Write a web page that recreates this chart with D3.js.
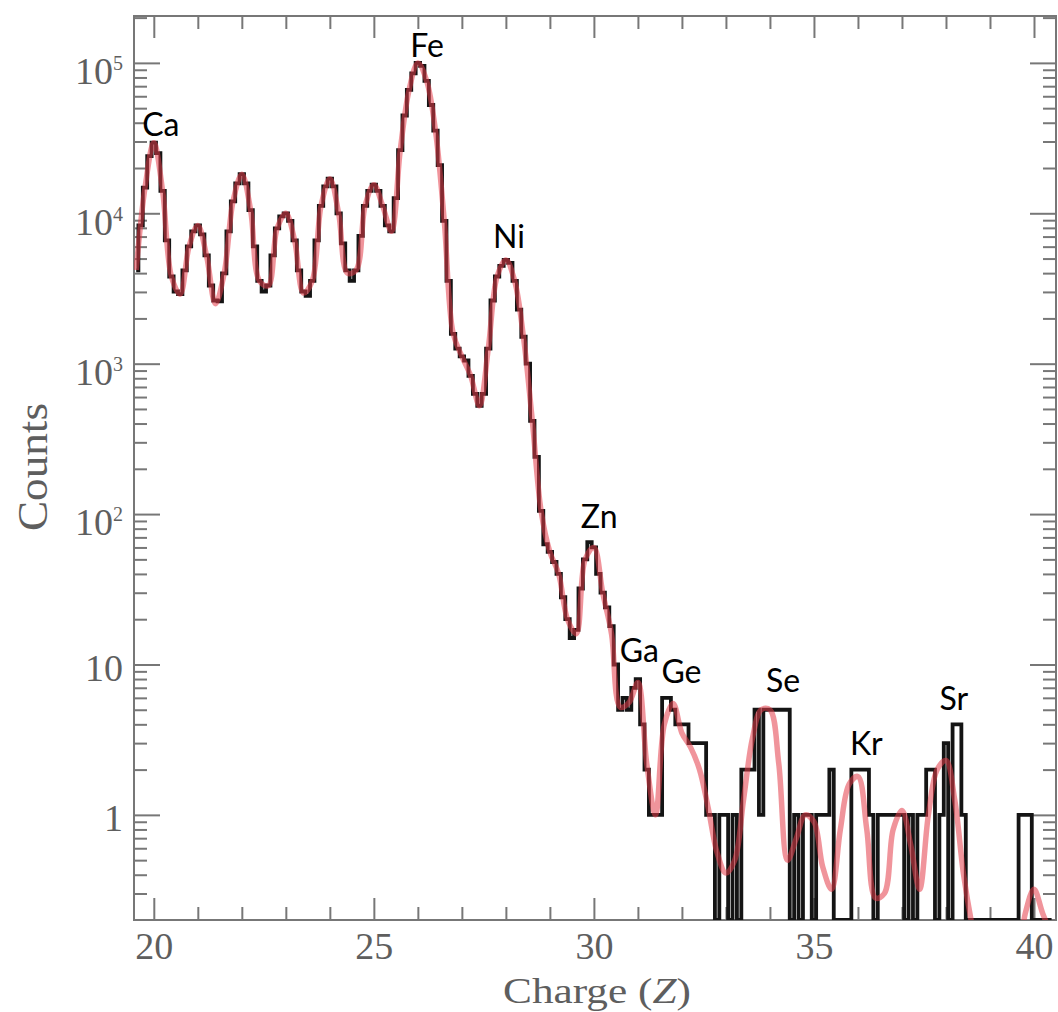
<!DOCTYPE html>
<html>
<head>
<meta charset="utf-8">
<script src="https://cdn.jsdelivr.net/npm/d3@7"></script>
<style>
  body { margin: 0; background: #fff; }
</style>
</head>
<body>
<script>
// histogram: bin centres start at 19.6, bins are 0.1 wide
const histStart = 19.6;
const histStep = 0.1;
const histCounts = [
  4170, 8320, 14800, 24000,
  29500, 25100, 14100, 6600, 3800, 3020, 2900, 4170, 6030, 7590,
  8320, 7240, 5250, 3310, 2630, 2600, 3980, 7590, 12000, 15800,
  18200, 15800, 10500, 6030, 3550, 3020, 3310, 5250, 7940, 9550,
  10000, 8910, 6610, 4170, 3020, 2820, 3550, 6610, 11200, 15100,
  17000, 15100, 10000, 6310, 4170, 3550, 4170, 7080, 11200, 14100,
  15500, 14100, 11200, 8320, 7590, 12600, 26300, 44700, 66100, 85100,
  100000, 95500, 75900, 52500, 35500, 20900, 8910, 3550, 1580, 1260,
  1120, 1050, 830, 630, 525, 630, 1260, 2630, 3800, 4470,
  4900, 4680, 3550, 2290, 1510, 1000, 417, 240, 105, 63,
  56, 48, 40, 28, 20, 15, 17, 32, 50, 65,
  60, 40, 30, 24, 18, 10, 5, 6, 5, 7,
  8, 4, 2, 1, 1, 1, 6, 6, 5, 4,
  4, 4, 3, 3, 3, 3, 1, 1, 0, 1,
  1, 0, 1, 0, 2, 2, 2, 5, 1, 5,
  5, 5, 5, 5, 5, 0, 1, 0, 1, 1,
  0, 1, 1, 1, 2, 0, 0, 0, 0, 2,
  2, 2, 2, 1, 0, 1, 1, 1, 1, 1,
  1, 0, 1, 0, 1, 1, 2, 2, 0, 1,
  3, 0, 4, 4, 1, 0, 0, 0, 0, 0,
  0, 0, 0, 0, 0, 0, 0, 1, 1, 1,
  0, 0, 0, 0, 0
];

// fitted curve, sampled every 0.2 from 19.6
const fitStart = 19.6;
const fitStep = 0.2;
const fitCounts = [
  4200, 14800, 29500, 14100, 3800, 2900, 6000, 8300, 5200, 2500,
  4000, 12000, 18200, 10500, 3550, 3300, 7900, 10000, 6600, 2950,
  3550, 11200, 17000, 10000, 4000, 4200, 11200, 15500, 11200, 7600,
  26300, 66000, 100000, 76000, 35500, 8900, 1600, 1120, 830, 525,
  1260, 3800, 4900, 3550, 1500, 420, 105, 56, 40, 20,
  16, 50, 60, 30, 16, 5.2, 5.6, 7.6, 2.2, 1.0,
  4.0, 5.5, 3.5, 2.8, 2.0, 1.1, 0.56, 0.41, 0.5, 1.26,
  3.2, 5.0, 5.0, 2.2, 0.5, 0.7, 1.0, 0.9, 0.45, 0.32,
  0.8, 1.6, 1.8, 0.8, 0.28, 0.3, 0.8, 1.07, 0.63, 0.32,
  1.0, 2.0, 2.3, 1.25, 0.4, 0.18, 0.1, 0.1, 0.1, 0.1,
  0.1, 0.22, 0.32, 0.22, 0.16
];

const elements = ["Ca", "Fe", "Ni", "Zn", "Ga", "Ge", "Se", "Kr", "Sr"];
const elementZ = [20.16, 26.21, 28.07, 30.12, 31.03, 31.99, 34.30, 36.19, 38.18];
const elementY = [32700, 109600, 5900, 81, 10.4, 7.5, 6.6, 2.5, 5.0];

const xMajor = [20, 25, 30, 35, 40];
const xMinor = [21, 22, 23, 24, 26, 27, 28, 29, 31, 32, 33, 34, 36, 37, 38, 39];
const yMajor = [1, 10, 100, 1000, 10000, 100000];

const w = 1058;
const h = 1012;
const plotLeft = 134, plotRight = 1056, plotTop = 16, plotBottom = 920;
const yFloor = 0.2;

const xScale = d3.scaleLinear().domain([19.55, 40.5]).range([plotLeft, plotRight]);
const yScale = d3.scaleLog().domain([yFloor, 2.05e5]).range([plotBottom, plotTop]);

const yMinor = [0.1, 1, 10, 100, 1000, 10000, 100000]
  .flatMap(d => [2, 3, 4, 5, 6, 7, 8, 9].map(k => d * k))
  .filter(v => v > yFloor && v < 2.05e5);

const hist = histCounts.map((c, i) => ({ z: histStart + i * histStep, c: c }));
const fit = fitCounts.map((c, i) => ({ z: fitStart + i * fitStep, c: c }));

const svg = d3.select("body")
  .append("svg")
  .attr("width", w)
  .attr("height", h);

svg.append("defs").append("clipPath").attr("id", "plot")
  .append("rect")
  .attr("x", plotLeft).attr("y", plotTop)
  .attr("width", plotRight - plotLeft).attr("height", plotBottom - plotTop);

const axisColor = "#777";
const labelColor = "#5e5e5e";
const serif = "'Liberation Serif', 'DejaVu Serif', serif";

// frame
svg.append("rect")
  .attr("x", plotLeft).attr("y", plotTop)
  .attr("width", plotRight - plotLeft).attr("height", plotBottom - plotTop)
  .attr("fill", "none")
  .attr("stroke", axisColor)
  .attr("stroke-width", 2);

const styleAxis = g => {
  g.select(".domain").remove();
  g.selectAll(".tick line").attr("stroke", axisColor).attr("stroke-width", 2);
  g.attr("font-family", serif).attr("font-size", 38);
  g.selectAll(".tick text").attr("fill", labelColor);
};

// x axes (ticks point inward)
svg.append("g")
  .attr("transform", `translate(0,${plotBottom})`)
  .call(d3.axisBottom(xScale).tickValues(xMajor).tickSize(-22).tickPadding(12))
  .call(styleAxis);
svg.append("g")
  .attr("transform", `translate(0,${plotBottom})`)
  .call(d3.axisBottom(xScale).tickValues(xMinor).tickSize(-13).tickFormat(""))
  .call(styleAxis);
svg.append("g")
  .attr("transform", `translate(0,${plotTop})`)
  .call(d3.axisTop(xScale).tickValues(xMajor).tickSize(-22).tickFormat(""))
  .call(styleAxis);
svg.append("g")
  .attr("transform", `translate(0,${plotTop})`)
  .call(d3.axisTop(xScale).tickValues(xMinor).tickSize(-13).tickFormat(""))
  .call(styleAxis);

// y axes
const yLeft = svg.append("g")
  .attr("transform", `translate(${plotLeft},0)`)
  .call(d3.axisLeft(yScale).tickValues(yMajor).tickSize(-26).tickPadding(11))
  .call(styleAxis);

yLeft.selectAll(".tick text").each(function(d) {
  const t = d3.select(this);
  const e = Math.round(Math.log10(d));
  t.text(null);
  if (e <= 1) {
    t.text(e === 0 ? "1" : "10").attr("dy", "0.42em");
  } else {
    t.attr("dy", "0.55em");
    t.append("tspan").text("10");
    t.append("tspan").text(e).attr("font-size", 20).attr("dy", -14);
  }
});

svg.append("g")
  .attr("transform", `translate(${plotLeft},0)`)
  .call(d3.axisLeft(yScale).tickValues(yMinor).tickSize(-13).tickFormat(""))
  .call(styleAxis);
svg.append("g")
  .attr("transform", `translate(${plotRight},0)`)
  .call(d3.axisRight(yScale).tickValues(yMajor).tickSize(-26).tickFormat(""))
  .call(styleAxis);
svg.append("g")
  .attr("transform", `translate(${plotRight},0)`)
  .call(d3.axisRight(yScale).tickValues(yMinor).tickSize(-13).tickFormat(""))
  .call(styleAxis);

// data
const plot = svg.append("g").attr("clip-path", "url(#plot)");

const histLine = d3.line()
  .x(d => xScale(d.z))
  .y(d => yScale(Math.max(d.c, yFloor)))
  .curve(d3.curveStep);

const fitLine = d3.line()
  .x(d => xScale(d.z))
  .y(d => yScale(d.c))
  .curve(d3.curveCatmullRom.alpha(0.5));

plot.append("path")
  .datum(hist)
  .attr("d", histLine)
  .attr("fill", "none")
  .attr("stroke", "#141414")
  .attr("stroke-width", 3.8)
  .attr("stroke-linejoin", "miter");

plot.append("path")
  .datum(fit)
  .attr("d", fitLine)
  .attr("fill", "none")
  .attr("stroke", "#e43c48")
  .attr("stroke-opacity", 0.55)
  .attr("stroke-width", 5.5);

// element labels
svg.append("g")
  .selectAll("text")
  .data(elements)
  .enter()
  .append("text")
  .attr("x", (d, i) => xScale(elementZ[i]))
  .attr("y", (d, i) => yScale(elementY[i]))
  .attr("text-anchor", "middle")
  .attr("font-family", "Lato, 'Open Sans', sans-serif")
  .attr("font-size", 32)
  .attr("fill", "#000")
  .text(d => d);

// axis titles
svg.append("text")
  .attr("transform", `translate(47,467) rotate(-90)`)
  .attr("text-anchor", "middle")
  .attr("font-family", serif)
  .attr("font-size", 42)
  .attr("textLength", 128)
  .attr("lengthAdjust", "spacingAndGlyphs")
  .attr("fill", labelColor)
  .text("Counts");

const xTitle = svg.append("text")
  .attr("x", 597)
  .attr("y", 1003)
  .attr("text-anchor", "middle")
  .attr("font-family", serif)
  .attr("font-size", 36)
  .attr("textLength", 188)
  .attr("lengthAdjust", "spacingAndGlyphs")
  .attr("fill", labelColor);
xTitle.append("tspan").text("Charge (");
xTitle.append("tspan").attr("font-style", "italic").text("Z");
xTitle.append("tspan").text(")");
</script>
</body>
</html>
